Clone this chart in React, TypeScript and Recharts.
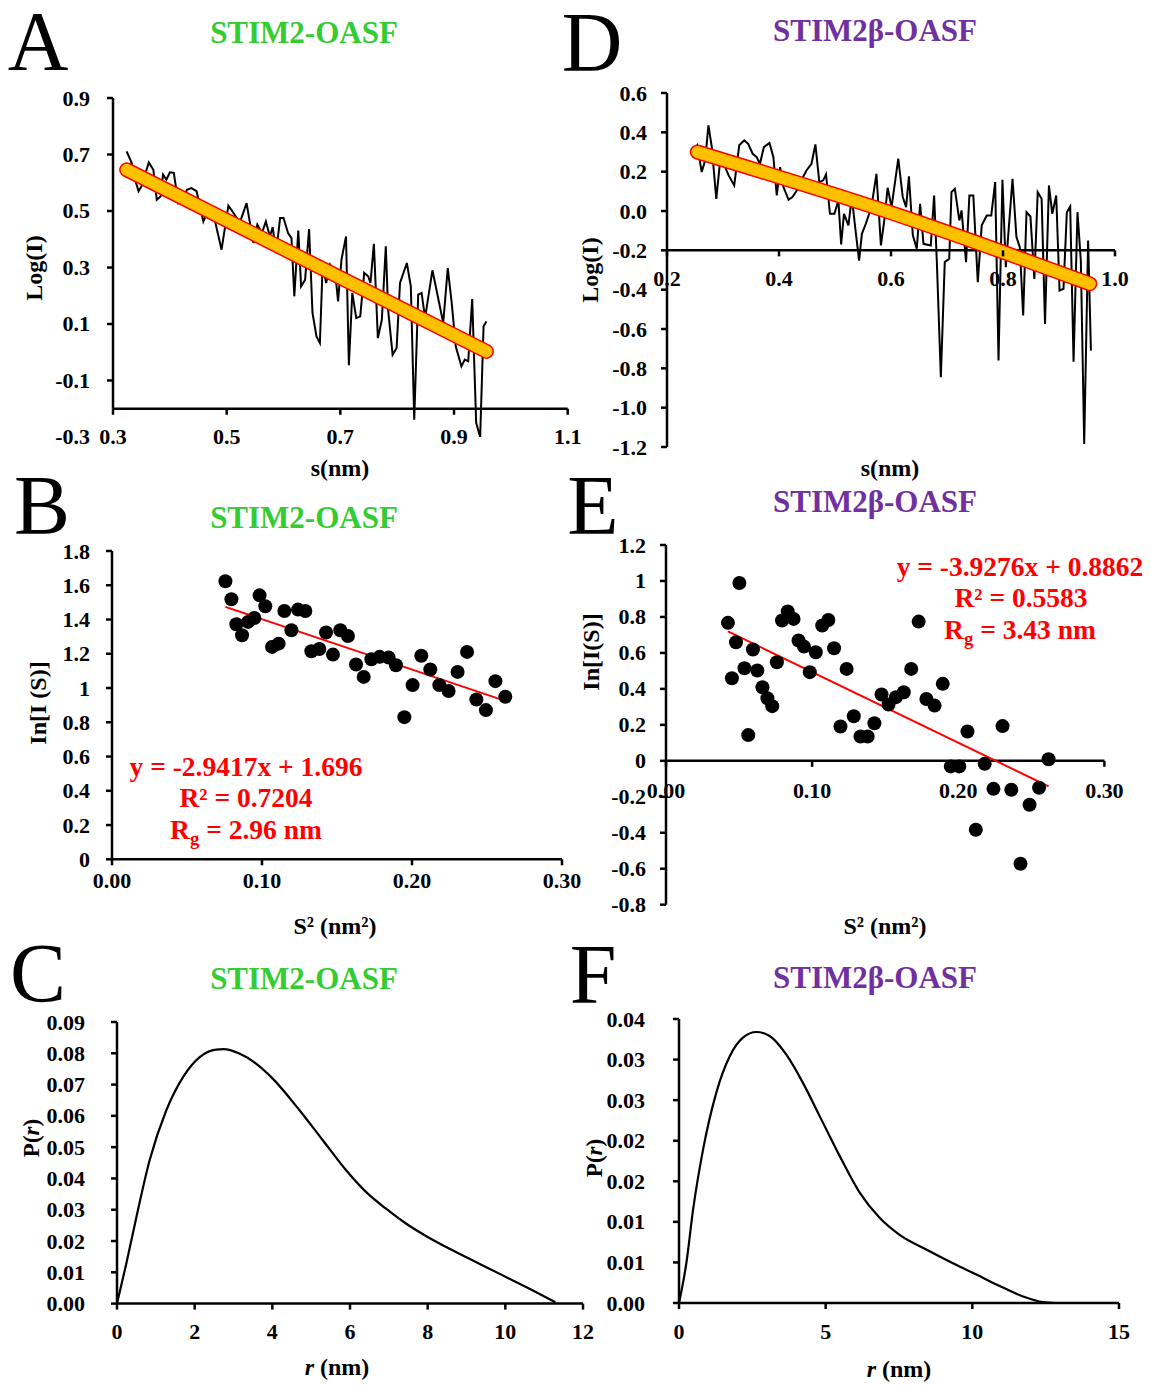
import React from "react";
import { ComposedChart, Line, Scatter, XAxis, YAxis, ReferenceLine } from "recharts";

const FONT = '"Liberation Serif", "Times New Roman", serif';
const GREEN = "#33CC33";
const PURPLE = "#7030A0";
const RED = "#FF0000";
const GOLD = "#FFC000";

// A: STIM2-OASF, Log(I) vs s
const aS = [0.324, 0.333, 0.338, 0.345, 0.35, 0.363, 0.371, 0.377, 0.384, 0.388, 0.394, 0.4, 0.407, 0.415, 0.423, 0.43, 0.438, 0.447, 0.459, 0.468, 0.479, 0.491, 0.503, 0.512, 0.523, 0.535, 0.547, 0.554, 0.562, 0.569, 0.576, 0.581, 0.587, 0.594, 0.6, 0.608, 0.614, 0.619, 0.626, 0.631, 0.638, 0.645, 0.651, 0.658, 0.664, 0.669, 0.675, 0.682, 0.691, 0.696, 0.702, 0.71, 0.715, 0.721, 0.728, 0.735, 0.742, 0.749, 0.753, 0.759, 0.766, 0.773, 0.78, 0.784, 0.792, 0.799, 0.805, 0.817, 0.824, 0.83, 0.837, 0.843, 0.849, 0.862, 0.869, 0.881, 0.889, 0.896, 0.903, 0.913, 0.919, 0.925, 0.932, 0.939, 0.946, 0.952, 0.957];
const aLogI = [0.711, 0.67, 0.617, 0.57, 0.587, 0.672, 0.646, 0.54, 0.552, 0.629, 0.611, 0.637, 0.635, 0.528, 0.54, 0.575, 0.581, 0.57, 0.463, 0.505, 0.469, 0.363, 0.519, 0.493, 0.458, 0.528, 0.387, 0.452, 0.422, 0.463, 0.41, 0.443, 0.351, 0.475, 0.475, 0.422, 0.404, 0.198, 0.431, 0.233, 0.257, 0.436, 0.139, 0.056, 0.033, 0.314, 0.245, 0.31, 0.281, 0.18, 0.328, 0.41, -0.046, 0.21, 0.121, 0.127, 0.281, 0.269, 0.245, 0.384, 0.05, 0.115, 0.375, 0.151, -0.009, 0.015, 0.245, 0.316, 0.233, -0.239, 0.204, 0.21, 0.121, 0.29, 0.222, 0.104, 0.298, 0.174, 0.021, -0.05, -0.026, -0.032, 0.188, -0.25, -0.3, 0.092, 0.109];
const aFitS = [0.324, 0.957];
const aFitLogI = [0.646, 0.003];
const aXTicks = [0.3, 0.5, 0.7, 0.9, 1.1];
const aYTicks = [-0.3, -0.1, 0.1, 0.3, 0.5, 0.7, 0.9];

// D: STIM2beta-OASF, Log(I) vs s
const dS = [0.25, 0.254, 0.262, 0.268, 0.274, 0.28, 0.288, 0.295, 0.304, 0.31, 0.32, 0.329, 0.338, 0.345, 0.353, 0.36, 0.366, 0.373, 0.383, 0.39, 0.396, 0.402, 0.408, 0.417, 0.424, 0.432, 0.44, 0.449, 0.458, 0.465, 0.472, 0.479, 0.484, 0.491, 0.499, 0.506, 0.511, 0.516, 0.524, 0.53, 0.536, 0.543, 0.548, 0.555, 0.565, 0.574, 0.582, 0.588, 0.594, 0.601, 0.613, 0.621, 0.627, 0.632, 0.639, 0.646, 0.652, 0.658, 0.671, 0.677, 0.682, 0.689, 0.696, 0.704, 0.708, 0.714, 0.722, 0.726, 0.734, 0.74, 0.747, 0.755, 0.762, 0.771, 0.779, 0.786, 0.792, 0.799, 0.805, 0.817, 0.824, 0.83, 0.836, 0.842, 0.849, 0.856, 0.862, 0.869, 0.875, 0.882, 0.888, 0.895, 0.901, 0.908, 0.914, 0.92, 0.926, 0.933, 0.939, 0.945, 0.952, 0.957];
const dLogI = [0.317, 0.334, 0.198, 0.257, 0.435, 0.325, 0.062, 0.257, 0.223, 0.181, 0.13, 0.334, 0.359, 0.342, 0.291, 0.274, 0.24, 0.325, 0.346, 0.274, 0.079, 0.223, 0.122, 0.057, 0.071, 0.105, 0.156, 0.206, 0.24, 0.339, 0.147, 0.156, 0.186, -0.014, -0.014, 0.054, -0.17, -0.014, -0.073, 0.071, -0.082, -0.252, -0.116, -0.065, 0.02, 0.189, -0.175, -0.048, 0.118, 0.02, 0.266, 0.071, 0.02, 0.176, -0.124, -0.192, 0.037, -0.167, -0.175, 0.079, -0.269, -0.845, -0.26, -0.243, 0.096, 0.113, -0.048, 0.003, -0.26, 0.079, 0.079, -0.362, -0.073, -0.023, -0.023, 0.147, -0.76, 0.159, -0.286, 0.164, -0.133, -0.184, -0.531, -0.006, -0.028, -0.345, 0.096, 0.062, -0.574, 0.13, -0.014, 0.079, -0.404, -0.396, -0.006, 0.023, -0.766, -0.006, -0.252, -1.185, -0.15, -0.71];
const dFitS = [0.254, 0.601, 0.955];
const dFitLogI = [0.3, -0.01, -0.37];
const dXTicks = [0.2, 0.4, 0.6, 0.8, 1.0];
const dYTicks = [-1.2, -1.0, -0.8, -0.6, -0.4, -0.2, 0.0, 0.2, 0.4, 0.6];

// B: STIM2-OASF Guinier
const bS2 = [0.0756, 0.0796, 0.0829, 0.0867, 0.0907, 0.0949, 0.0984, 0.1022, 0.1067, 0.1111, 0.1149, 0.1196, 0.124, 0.1289, 0.1329, 0.1382, 0.1427, 0.1473, 0.1522, 0.1573, 0.1627, 0.1678, 0.1729, 0.1784, 0.1844, 0.1893, 0.1949, 0.2004, 0.2062, 0.2122, 0.2182, 0.2244, 0.2304, 0.2367, 0.2429, 0.2493, 0.2556, 0.2622];
const bLnI = [1.623, 1.518, 1.372, 1.308, 1.386, 1.409, 1.541, 1.477, 1.24, 1.259, 1.45, 1.337, 1.458, 1.45, 1.215, 1.228, 1.324, 1.195, 1.337, 1.304, 1.137, 1.065, 1.168, 1.182, 1.178, 1.133, 0.83, 1.017, 1.188, 1.108, 1.017, 0.983, 1.094, 1.211, 0.933, 0.871, 1.04, 0.949];
const bFitS2 = [0.0756, 0.2622];
const bFitLnI = [1.474, 0.925];
const bXTicks = [0, 0.1, 0.2, 0.3];
const bYTicks = [0, 0.2, 0.4, 0.6, 0.8, 1, 1.2, 1.4, 1.6, 1.8];

// E: STIM2beta-OASF Guinier
const eS2 = [0.0424, 0.0451, 0.0479, 0.0502, 0.0537, 0.0563, 0.0595, 0.0625, 0.066, 0.0694, 0.0727, 0.0759, 0.0794, 0.0833, 0.0873, 0.0907, 0.0944, 0.0984, 0.1025, 0.1069, 0.1111, 0.115, 0.1194, 0.1236, 0.1285, 0.1331, 0.138, 0.1426, 0.1475, 0.1523, 0.1574, 0.1627, 0.1678, 0.1729, 0.1782, 0.1838, 0.1894, 0.1949, 0.2007, 0.2063, 0.212, 0.2181, 0.2241, 0.2303, 0.2363, 0.2426, 0.2488, 0.2553, 0.2618];
const eLnI = [0.767, 0.459, 0.659, 0.989, 0.515, 0.143, 0.619, 0.502, 0.409, 0.348, 0.304, 0.548, 0.78, 0.83, 0.789, 0.669, 0.635, 0.493, 0.604, 0.752, 0.783, 0.626, 0.191, 0.511, 0.248, 0.135, 0.135, 0.209, 0.369, 0.313, 0.354, 0.381, 0.511, 0.774, 0.344, 0.307, 0.428, -0.031, -0.031, 0.163, -0.383, -0.017, -0.156, 0.193, -0.161, -0.572, -0.244, -0.15, 0.009];
const eFitS2 = [0.0424, 0.2618];
const eFitLnI = [0.72, -0.142];
const eXTicks = [0, 0.1, 0.2, 0.3];
const eYTicks = [-0.8, -0.6, -0.4, -0.2, 0, 0.2, 0.4, 0.6, 0.8, 1, 1.2];

// C: STIM2-OASF P(r)
const cR = [0, 0.24, 0.5, 0.84, 1.27, 1.7, 2.13, 2.55, 2.74, 3.15, 3.58, 4.01, 4.7, 5.3, 5.9, 6.41, 6.92, 7.44, 8.0, 8.55, 9.24, 9.92, 10.61, 11.29];
const cP = [0, 0.0128, 0.0277, 0.0458, 0.0618, 0.0724, 0.0788, 0.0812, 0.0813, 0.0799, 0.0767, 0.0719, 0.0618, 0.0522, 0.0426, 0.0357, 0.0304, 0.0256, 0.0213, 0.0176, 0.0133, 0.0091, 0.0048, 0.0004];
const cXTicks = [0, 2, 4, 6, 8, 10, 12];
const cYTicks = [0, 0.01, 0.02, 0.03, 0.04, 0.05, 0.06, 0.07, 0.08, 0.09];

// F: STIM2beta-OASF P(r)
const fR = [0, 0.25, 0.48, 0.82, 1.27, 1.73, 2.18, 2.64, 3.09, 3.66, 4.23, 4.8, 5.48, 6.16, 6.84, 7.52, 8.43, 9.34, 10.14, 10.93, 11.73, 12.41, 12.86];
const fP = [0, 0.0049, 0.0115, 0.0189, 0.0259, 0.0304, 0.0327, 0.0334, 0.0329, 0.0306, 0.0271, 0.023, 0.0181, 0.0136, 0.0105, 0.0084, 0.0066, 0.0049, 0.0035, 0.0021, 0.0008, 0.0001, 0];
const fXTicks = [0, 5, 10, 15];
const fYTicks = [0, 0.005, 0.01, 0.015, 0.02, 0.025, 0.03, 0.035];

const zip = (xs: number[], ys: number[]) =>
  xs.slice(0, Math.min(xs.length, ys.length)).map((x, i) => ({ x, y: ys[i] }));

const fix = (d: number) => (v: number) => (Math.round(v * 10 ** d + 1e-6) / 10 ** d).toFixed(d);
const general = (v: number) => String(Math.round(v * 10) / 10);

const YW = 80;
const XH = 60;
const PT = 12;
const PR = 24;

type PanelProps = {
  left: number;
  top: number;
  width: number;
  height: number;
  xDomain: [number, number];
  yDomain: [number, number];
  xTicks: number[];
  yTicks: number[];
  xFmt: (v: number) => string;
  yFmt: (v: number) => string;
  xCross?: number;
  yLine?: [number, number];
  yNoMark?: number[];
  xLabelDy: number;
  yLabelGap: number;
  children: React.ReactNode;
};

const tickText = {
  fontFamily: FONT,
  fontWeight: 700,
  fontSize: 22,
  fill: "#000",
};

function Panel(p: PanelProps) {
  const { left, top, width, height, xDomain, yDomain } = p;
  const xCross = p.xCross ?? yDomain[0];
  const shift = ((xCross - yDomain[0]) / (yDomain[1] - yDomain[0])) * height;
  const yLine = p.yLine ?? yDomain;
  const noMark = p.yNoMark ?? [];
  return (
    <div style={{ position: "absolute", left: left - YW, top: top - PT }}>
      <ComposedChart
        width={width + YW + PR}
        height={height + PT + XH}
        margin={{ top: PT, right: PR, bottom: 0, left: 0 }}
      >
        <XAxis
          type="number"
          dataKey="x"
          domain={xDomain}
          ticks={p.xTicks}
          allowDataOverflow
          interval={0}
          axisLine={false}
          tickLine={false}
          tickSize={0}
          tickMargin={0}
          height={XH}
          tick={(t: any) => {
            const ay = t.y - shift;
            return (
              <g>
                <line x1={t.x} x2={t.x} y1={ay} y2={ay + 6} stroke="#000" strokeWidth={2.5} />
                <text x={t.x} y={ay + p.xLabelDy} textAnchor="middle" dominantBaseline="central" {...tickText}>
                  {p.xFmt(t.payload.value)}
                </text>
              </g>
            );
          }}
        />
        <YAxis
          type="number"
          dataKey="y"
          domain={yDomain}
          ticks={p.yTicks}
          allowDataOverflow
          interval={0}
          axisLine={false}
          tickLine={false}
          tickSize={0}
          tickMargin={0}
          width={YW}
          tick={(t: any) => (
            <g>
              {noMark.includes(t.payload.value) ? null : (
                <line x1={t.x - 6} x2={t.x} y1={t.y} y2={t.y} stroke="#000" strokeWidth={2.5} />
              )}
              <text x={t.x - p.yLabelGap} y={t.y} textAnchor="end" dominantBaseline="central" {...tickText}>
                {p.yFmt(t.payload.value)}
              </text>
            </g>
          )}
        />
        <ReferenceLine
          ifOverflow="visible"
          segment={[
            { x: xDomain[0], y: yLine[0] },
            { x: xDomain[0], y: yLine[1] },
          ]}
          stroke="#000"
          strokeWidth={2.5}
        />
        <ReferenceLine
          ifOverflow="visible"
          segment={[
            { x: xDomain[0], y: xCross },
            { x: xDomain[1], y: xCross },
          ]}
          stroke="#000"
          strokeWidth={2.5}
        />
        {p.children}
      </ComposedChart>
    </div>
  );
}

function Txt({
  x,
  y,
  size,
  color = "#000",
  bold = true,
  rotate = false,
  lh = 1,
  children,
}: {
  x: number;
  y: number;
  size: number;
  color?: string;
  bold?: boolean;
  rotate?: boolean;
  lh?: number;
  children: React.ReactNode;
}) {
  return (
    <div
      style={{
        position: "absolute",
        left: x,
        top: y,
        transform: `translate(-50%, -50%)${rotate ? " rotate(-90deg)" : ""}`,
        fontFamily: FONT,
        fontWeight: bold ? 700 : 400,
        fontSize: size,
        lineHeight: lh,
        color,
        whiteSpace: "nowrap",
      }}
    >
      {children}
    </div>
  );
}

// panel letter, tight line box so it does not spill over the axes
const Letter = ({ x, y, c }: { x: number; y: number; c: string }) => (
  <Txt x={x} y={y} size={84} bold={false} lh={0.72}>
    {c}
  </Txt>
);

const sub = (s: string) => (
  <span style={{ fontSize: "0.68em", position: "relative", top: "0.32em" }}>{s}</span>
);

function noisyLine(data: { x: number; y: number }[]) {
  return (
    <Line
      data={data}
      dataKey="y"
      type="linear"
      stroke="#000"
      strokeWidth={2}
      dot={false}
      isAnimationActive={false}
    />
  );
}

function fitBand(data: { x: number; y: number }[], curve: "linear" | "monotone") {
  return [
    <Line key="o" data={data} dataKey="y" type={curve} stroke={RED} strokeWidth={15} strokeLinecap="round" dot={false} isAnimationActive={false} />,
    <Line key="i" data={data} dataKey="y" type={curve} stroke={GOLD} strokeWidth={12} strokeLinecap="round" dot={false} isAnimationActive={false} />,
  ];
}

const dotShape = (s: any) => <circle cx={s.cx} cy={s.cy} r={7} fill="#000" />;

export default function App() {
  return (
    <div
      style={{
        position: "absolute",
        left: 0,
        top: 0,
        width: 1151,
        height: 1385,
        background: "#fff",
        overflow: "hidden",
      }}
    >
      <style>{`.recharts-surface{overflow:visible}`}</style>

      {/* A */}
      <Panel
        left={113}
        top={98.3}
        width={454.7}
        height={339}
        xDomain={[0.3, 1.1]}
        yDomain={[-0.3, 0.9]}
        xTicks={aXTicks}
        yTicks={aYTicks}
        xFmt={fix(1)}
        yFmt={fix(1)}
        xCross={-0.2}
        yLine={[-0.2, 0.9]}
        yNoMark={[-0.3]}
        xLabelDy={28}
        yLabelGap={23}
      >
        {noisyLine(zip(aS, aLogI))}
        {fitBand(zip(aFitS, aFitLogI), "linear")}
      </Panel>

      {/* D */}
      <Panel
        left={667}
        top={92.7}
        width={448}
        height={354}
        xDomain={[0.2, 1.0]}
        yDomain={[-1.2, 0.6]}
        xTicks={dXTicks}
        yTicks={dYTicks}
        xFmt={fix(1)}
        yFmt={fix(1)}
        xCross={-0.2}
        xLabelDy={28}
        yLabelGap={20}
      >
        {noisyLine(zip(dS, dLogI))}
        {fitBand(zip(dFitS, dFitLogI), "monotone")}
      </Panel>

      {/* B */}
      <Panel
        left={111.7}
        top={551}
        width={450}
        height={308.3}
        xDomain={[0, 0.3]}
        yDomain={[0, 1.8]}
        xTicks={bXTicks}
        yTicks={bYTicks}
        xFmt={fix(2)}
        yFmt={general}
        xLabelDy={21}
        yLabelGap={22}
      >
        <Scatter data={zip(bS2, bLnI)} dataKey="y" shape={dotShape} isAnimationActive={false} />
        <Line data={zip(bFitS2, bFitLnI)} dataKey="y" type="linear" stroke={RED} strokeWidth={2} dot={false} isAnimationActive={false} />
      </Panel>

      {/* E */}
      <Panel
        left={665.6}
        top={545}
        width={438.4}
        height={359.7}
        xDomain={[0, 0.3]}
        yDomain={[-0.8, 1.2]}
        xTicks={eXTicks}
        yTicks={eYTicks}
        xFmt={fix(2)}
        yFmt={general}
        xCross={0}
        xLabelDy={30}
        yLabelGap={20}
      >
        <Scatter data={zip(eS2, eLnI)} dataKey="y" shape={dotShape} isAnimationActive={false} />
        <Line data={zip(eFitS2, eFitLnI)} dataKey="y" type="linear" stroke={RED} strokeWidth={2} dot={false} isAnimationActive={false} />
      </Panel>

      {/* C */}
      <Panel
        left={117.3}
        top={1021.7}
        width={466}
        height={281.6}
        xDomain={[0, 12]}
        yDomain={[0, 0.09]}
        xTicks={cXTicks}
        yTicks={cYTicks}
        xFmt={(v) => String(v)}
        yFmt={fix(2)}
        xLabelDy={28}
        yLabelGap={32}
      >
        <Line data={zip(cR, cP)} dataKey="y" type="monotone" stroke="#000" strokeWidth={2.2} dot={false} isAnimationActive={false} />
      </Panel>

      {/* F */}
      <Panel
        left={679.3}
        top={1019.3}
        width={440}
        height={284}
        xDomain={[0, 15]}
        yDomain={[0, 0.035]}
        xTicks={fXTicks}
        yTicks={fYTicks}
        xFmt={(v) => String(v)}
        yFmt={fix(2)}
        xLabelDy={28}
        yLabelGap={34}
      >
        <Line data={zip(fR, fP)} dataKey="y" type="monotone" stroke="#000" strokeWidth={2.2} dot={false} isAnimationActive={false} />
      </Panel>

      {/* panel letters */}
      <Letter x={38} y={42} c="A" />
      <Letter x={592} y={43} c="D" />
      <Letter x={42} y={506} c="B" />
      <Letter x={593} y={506} c="E" />
      <Letter x={38} y={974} c="C" />
      <Letter x={593} y={975} c="F" />

      {/* titles */}
      <Txt x={304} y={32} size={31} color={GREEN}>STIM2-OASF</Txt>
      <Txt x={875} y={30} size={31} color={PURPLE}>STIM2β-OASF</Txt>
      <Txt x={304} y={517} size={31} color={GREEN}>STIM2-OASF</Txt>
      <Txt x={875} y={501} size={31} color={PURPLE}>STIM2β-OASF</Txt>
      <Txt x={304} y={978} size={31} color={GREEN}>STIM2-OASF</Txt>
      <Txt x={875} y={977} size={31} color={PURPLE}>STIM2β-OASF</Txt>

      {/* axis titles */}
      <Txt x={34} y={268} size={24} rotate>Log(I)</Txt>
      <Txt x={340} y={468} size={24}>s(nm)</Txt>
      <Txt x={590} y={270} size={24} rotate>Log(I)</Txt>
      <Txt x={890} y={468} size={24}>s(nm)</Txt>
      <Txt x={38} y={703} size={24} rotate>In[I (S)]</Txt>
      <Txt x={335} y={926} size={24}>S² (nm²)</Txt>
      <Txt x={591} y={652} size={24} rotate>In[I(S)]</Txt>
      <Txt x={885} y={926} size={24}>S² (nm²)</Txt>
      <Txt x={31} y={1138} size={23} rotate>P(<i>r</i>)</Txt>
      <Txt x={337} y={1367} size={24}><i>r</i> (nm)</Txt>
      <Txt x={594} y={1158} size={23} rotate>P(<i>r</i>)</Txt>
      <Txt x={899} y={1369} size={24}><i>r</i> (nm)</Txt>

      {/* regression annotations */}
      <Txt x={246} y={767} size={27.5} color={RED}>y = -2.9417x + 1.696</Txt>
      <Txt x={246} y={798} size={27.5} color={RED}>R² = 0.7204</Txt>
      <Txt x={246} y={830} size={27.5} color={RED}>R{sub("g")} = 2.96 nm</Txt>
      <Txt x={1020} y={567} size={27.5} color={RED}>y = -3.9276x + 0.8862</Txt>
      <Txt x={1021} y={598} size={27.5} color={RED}>R² = 0.5583</Txt>
      <Txt x={1020} y={630} size={27.5} color={RED}>R{sub("g")} = 3.43 nm</Txt>
    </div>
  );
}
